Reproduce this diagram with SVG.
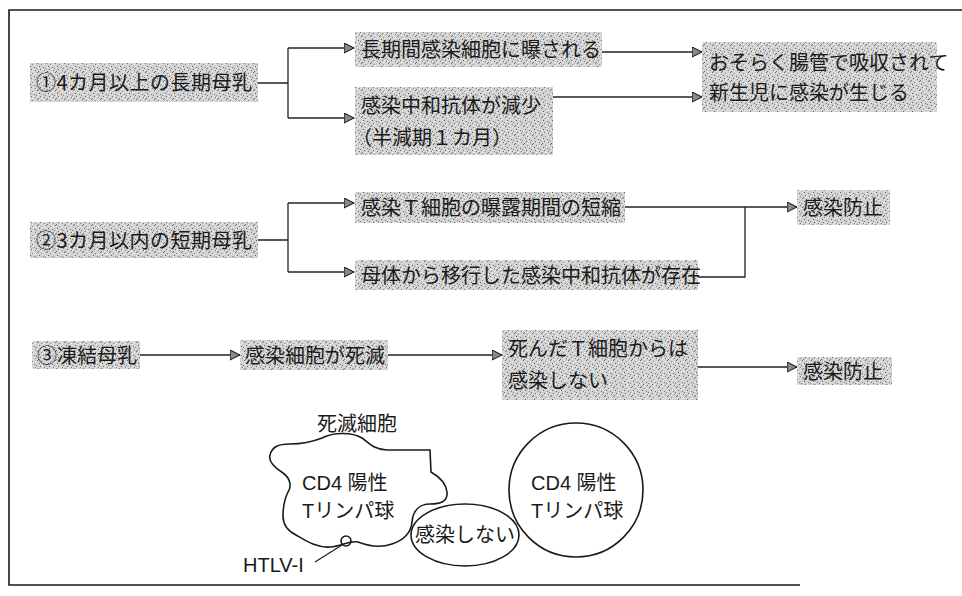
<svg xmlns="http://www.w3.org/2000/svg" width="962" height="596" viewBox="0 0 962 596">
  <style>
    .jp { font-family: "Noto Sans CJK JP", "Noto Sans", sans-serif; font-size: 20px; fill: #1a1a1a; }
    .lat { font-family: "Liberation Sans", "Noto Sans CJK JP", sans-serif; font-size: 20px; fill: #1a1a1a; }
    .box { fill: url(#tone); }
    .wire { fill: none; stroke: #222; stroke-width: 1.3; }
    .outline { fill: none; stroke: #1a1a1a; stroke-width: 1.6; }
  </style>
  <defs>
    <!-- screen-tone fill used behind every label -->
    <pattern id="tone" width="9" height="9" patternUnits="userSpaceOnUse">
      <rect width="9" height="9" fill="#d2d2d2"/>
      <rect x="1" y="0" width="1" height="1" fill="#6a6a6a"/>
      <rect x="5" y="1" width="1" height="1" fill="#888"/>
      <rect x="3" y="3" width="1" height="1" fill="#5a5a5a"/>
      <rect x="7" y="4" width="1" height="1" fill="#777"/>
      <rect x="0" y="5" width="1" height="1" fill="#808080"/>
      <rect x="4" y="6" width="1" height="1" fill="#666"/>
      <rect x="8" y="7" width="1" height="1" fill="#7a7a7a"/>
      <rect x="2" y="8" width="1" height="1" fill="#707070"/>
      <rect x="6" y="2" width="1" height="1" fill="#f2f2f2"/>
      <rect x="2" y="4" width="1" height="1" fill="#f5f5f5"/>
      <rect x="8" y="1" width="1" height="1" fill="#eee"/>
      <rect x="5" y="8" width="1" height="1" fill="#f0f0f0"/>
      <rect x="0" y="7" width="1" height="1" fill="#ececec"/>
      <rect x="6" y="6" width="1" height="1" fill="#f4f4f4"/>
    </pattern>
    <marker id="arrow" viewBox="0 0 10 10" refX="9.5" refY="5" markerWidth="11" markerHeight="11" markerUnits="userSpaceOnUse" orient="auto">
      <path d="M0.5,0.5 L9.5,5 L0.5,9.5 Z" fill="#8a8a8a" stroke="#1a1a1a" stroke-width="1"/>
    </marker>
  </defs>

  <rect width="962" height="596" fill="#ffffff"/>

  <!-- frame -->
  <path class="outline" d="M962,10 H9 V585 H800"/>

  <!-- connectors -->
  <g id="connectors">
    <path class="wire" d="M258,83 H288 M288,48 V118"/>
    <path class="wire" d="M288,48 H354" marker-end="url(#arrow)"/>
    <path class="wire" d="M288,118 H354" marker-end="url(#arrow)"/>
    <path class="wire" d="M602,52 H702" marker-end="url(#arrow)"/>
    <path class="wire" d="M553,97 H702" marker-end="url(#arrow)"/>

    <path class="wire" d="M258,240 H288 M288,203 V272"/>
    <path class="wire" d="M288,203 H354" marker-end="url(#arrow)"/>
    <path class="wire" d="M288,272 H354" marker-end="url(#arrow)"/>
    <path class="wire" d="M625,207 H797" marker-end="url(#arrow)"/>
    <path class="wire" d="M698,277 H745 V207"/>

    <path class="wire" d="M140,355 H240" marker-end="url(#arrow)"/>
    <path class="wire" d="M388,355 H502" marker-end="url(#arrow)"/>
    <path class="wire" d="M698,367 H797" marker-end="url(#arrow)"/>
  </g>

  <!-- row 1 -->
  <g id="long-feeding">
    <rect class="box" x="30" y="63" width="228" height="39"/>
    <text class="jp" x="36" y="90" letter-spacing="0.5">①4カ月以上の長期母乳</text>
  </g>
  <g id="long-exposure">
    <rect class="box" x="355" y="32" width="247" height="35"/>
    <text class="jp" x="361" y="57">長期間感染細胞に曝される</text>
  </g>
  <g id="antibody-decline">
    <rect class="box" x="355" y="87" width="198" height="68"/>
    <text class="jp" x="361" y="113">感染中和抗体が減少</text>
    <text class="jp" x="352" y="145">（半減期１カ月）</text>
  </g>
  <g id="infection">
    <rect class="box" x="702" y="42" width="235" height="70"/>
    <text class="jp" x="709" y="70">おそらく腸管で吸収されて</text>
    <text class="jp" x="709" y="100">新生児に感染が生じる</text>
  </g>

  <!-- row 2 -->
  <g id="short-feeding">
    <rect class="box" x="30" y="222" width="228" height="36"/>
    <text class="jp" x="36" y="248" letter-spacing="0.5">②3カ月以内の短期母乳</text>
  </g>
  <g id="short-exposure">
    <rect class="box" x="355" y="192" width="270" height="31"/>
    <text class="jp" x="361" y="215">感染Ｔ細胞の曝露期間の短縮</text>
  </g>
  <g id="maternal-antibody">
    <rect class="box" x="355" y="260" width="343" height="30"/>
    <text class="jp" x="361" y="283">母体から移行した感染中和抗体が存在</text>
  </g>
  <g id="prevention-2">
    <rect class="box" x="797" y="190" width="93" height="35"/>
    <text class="jp" x="803" y="215">感染防止</text>
  </g>

  <!-- row 3 -->
  <g id="frozen-milk">
    <rect class="box" x="32" y="341" width="108" height="28"/>
    <text class="jp" x="37" y="363">③凍結母乳</text>
  </g>
  <g id="cells-die">
    <rect class="box" x="240" y="340" width="148" height="30"/>
    <text class="jp" x="245" y="363">感染細胞が死滅</text>
  </g>
  <g id="no-infection">
    <rect class="box" x="502" y="330" width="196" height="70"/>
    <text class="jp" x="508" y="356">死んだＴ細胞からは</text>
    <text class="jp" x="508" y="388">感染しない</text>
  </g>
  <g id="prevention-3">
    <rect class="box" x="797" y="357" width="95" height="28"/>
    <text class="jp" x="803" y="379">感染防止</text>
  </g>

  <!-- cell sketch -->
  <g id="dead-cell">
    <text class="jp" x="357" y="431" font-size="17" text-anchor="middle">死滅細胞</text>
    <path class="outline" d="M270,455 C272,447 278,444 290,444 C302,444 312,442 322,438 C334,432 352,432 362,438 C368,442 372,449 387,450 L430,450 L431,472 C438,476 446,482 447,492 C448,502 440,504 430,504 C420,504 413,510 412,522 C411,532 404,540 392,544 C380,548 368,546 358,542 C350,540 342,546 330,547 C316,548 305,540 296,535 C286,530 283,524 283,516 C283,506 284,500 288,492 C292,486 290,478 283,473 C275,468 268,462 270,455 Z"/>
    <text class="lat" x="302" y="490">CD4 <tspan class="jp">陽性</tspan></text>
    <text class="lat" x="302" y="518">T<tspan class="jp">リンパ球</tspan></text>
    <circle cx="346" cy="541" r="5" fill="none" stroke="#1a1a1a" stroke-width="1.6"/>
    <path class="wire" d="M342,545 L315,562" stroke-width="1.4"/>
    <text class="lat" x="243" y="572" font-size="19">HTLV-I</text>
  </g>
  <g id="not-infected">
    <ellipse class="outline" cx="465" cy="535" rx="54" ry="31"/>
    <text class="jp" x="465" y="542" font-size="18" text-anchor="middle">感染しない</text>
  </g>
  <g id="live-cell">
    <circle class="outline" cx="576" cy="490" r="67"/>
    <text class="lat" x="531" y="490">CD4 <tspan class="jp">陽性</tspan></text>
    <text class="lat" x="531" y="518">T<tspan class="jp">リンパ球</tspan></text>
  </g>
</svg>
